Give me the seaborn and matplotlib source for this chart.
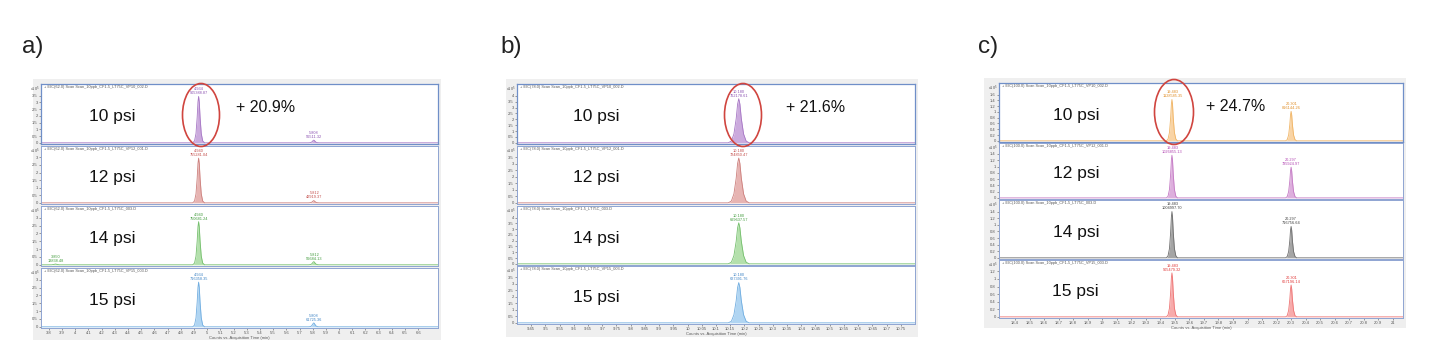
import math
import matplotlib
matplotlib.use("Agg")
import matplotlib.pyplot as plt
from matplotlib.patches import Ellipse, Rectangle
from matplotlib.ticker import FormatStrFormatter
import seaborn as sns

sns.set_theme(style="white")
plt.rcParams["font.family"] = ["Liberation Sans", "DejaVu Sans"]

W, H = 1429, 351

# ---------------- data ----------------
PRESSURES = ["10 psi", "12 psi", "14 psi", "15 psi"]
FILES = ["VP10_002.D", "VP12_001.D", "003.D", "VP15_003.D"]

# panel a) EIC(62.0)
A_TIME = [3.74, 3.82, 3.835, 3.85, 3.865, 3.88,
          4.890, 4.904, 4.915, 4.924, 4.930, 4.935, 4.940, 4.946, 4.955, 4.966, 4.980,
          5.768, 5.780, 5.790, 5.798, 5.804, 5.808, 5.812, 5.818, 5.826, 5.836, 5.848, 6.75]
A_10 = [0, 0, 0, 0, 0, 0,
        0, 0.14, 0.69, 1.90, 3.04, 3.45, 3.04, 1.90, 0.69, 0.14, 0,
        0, 0.01, 0.04, 0.11, 0.18, 0.20, 0.18, 0.11, 0.04, 0.01, 0, 0]
A_12 = [0, 0, 0, 0, 0, 0,
        0, 0.12, 0.59, 1.62, 2.60, 2.95, 2.60, 1.62, 0.59, 0.12, 0,
        0, 0.01, 0.03, 0.08, 0.13, 0.15, 0.13, 0.08, 0.03, 0.01, 0, 0]
A_14 = [0, 0, 0.02, 0.05, 0.02, 0,
        0, 0.11, 0.55, 1.51, 2.42, 2.75, 2.42, 1.51, 0.55, 0.11, 0,
        0, 0.01, 0.04, 0.11, 0.18, 0.20, 0.18, 0.11, 0.04, 0.01, 0, 0]
A_15 = [0, 0, 0, 0, 0, 0,
        0, 0.11, 0.57, 1.57, 2.51, 2.85, 2.51, 1.57, 0.57, 0.11, 0,
        0, 0.01, 0.05, 0.14, 0.22, 0.25, 0.22, 0.14, 0.05, 0.01, 0, 0]
A_TICKS = [3.8, 3.9, 4.0, 4.1, 4.2, 4.3, 4.4, 4.5, 4.6, 4.7, 4.8, 4.9, 5.0, 5.1, 5.2,
           5.3, 5.4, 5.5, 5.6, 5.7, 5.8, 5.9, 6.0, 6.1, 6.2, 6.3, 6.4, 6.5, 6.6]
A_PEAKS = [[(4.934, 3.45, "905388.87"), (5.808, 0.20, "56511.32")],
           [(4.940, 2.95, "755281.04"), (5.812, 0.15, "42919.37")],
           [(3.850, 0.05, "13838.48"), (4.940, 2.75, "750681.24"), (5.812, 0.20, "56684.13")],
           [(4.934, 2.85, "716358.35"), (5.808, 0.25, "61725.36")]]

# panel b) EIC(78.0)
B_TIME = [9.40, 10.143, 10.154, 10.163, 10.171, 10.176, 10.180, 10.184, 10.189,
          10.197, 10.206, 10.217, 10.80]
B_10 = [0, 0, 0.15, 0.75, 2.06, 3.30, 3.75, 3.30, 2.06, 0.75, 0.15, 0, 0]
B_12 = [0, 0, 0.14, 0.69, 1.90, 3.04, 3.45, 3.04, 1.90, 0.69, 0.14, 0, 0]
B_14 = [0, 0, 0.14, 0.71, 1.95, 3.12, 3.55, 3.12, 1.95, 0.71, 0.14, 0, 0]
B_15 = [0, 0, 0.12, 0.62, 1.71, 2.73, 3.10, 2.73, 1.71, 0.62, 0.12, 0, 0]
B_TICKS = [9.45, 9.5, 9.55, 9.6, 9.65, 9.7, 9.75, 9.8, 9.85, 9.9, 9.95, 10.0, 10.05,
           10.1, 10.15, 10.2, 10.25, 10.3, 10.35, 10.4, 10.45, 10.5, 10.55, 10.6,
           10.65, 10.7, 10.75]
B_PEAKS = [[(10.180, 3.75, "762178.61")],
           [(10.180, 3.45, "724850.47")],
           [(10.180, 3.55, "699637.57")],
           [(10.180, 3.10, "627391.76")]]

# panel c) EIC(100.0)
C_TIME = [18.29,
          19.442, 19.453, 19.463, 19.471, 19.476, 19.480, 19.484, 19.489, 19.497, 19.507, 19.518,
          20.262, 20.273, 20.283, 20.291, 20.296, 20.300, 20.304, 20.309, 20.317, 20.327, 20.338,
          21.07]
C_10 = [0, 0, 0.06, 0.29, 0.79, 1.26, 1.43, 1.26, 0.79, 0.29, 0.06, 0,
        0, 0.04, 0.20, 0.56, 0.90, 1.02, 0.90, 0.56, 0.20, 0.04, 0, 0]
C_12 = [0, 0, 0.05, 0.27, 0.75, 1.20, 1.36, 1.20, 0.75, 0.27, 0.05, 0,
        0, 0.04, 0.20, 0.54, 0.86, 0.98, 0.86, 0.54, 0.20, 0.04, 0, 0]
C_14 = [0, 0, 0.06, 0.28, 0.77, 1.23, 1.40, 1.23, 0.77, 0.28, 0.06, 0,
        0, 0.04, 0.19, 0.52, 0.84, 0.95, 0.84, 0.52, 0.19, 0.04, 0, 0]
C_15 = [0, 0, 0.05, 0.23, 0.64, 1.02, 1.16, 1.02, 0.64, 0.23, 0.05, 0,
        0, 0.03, 0.17, 0.46, 0.74, 0.84, 0.74, 0.46, 0.17, 0.03, 0, 0]
C_TICKS = [18.4, 18.5, 18.6, 18.7, 18.8, 18.9, 19.0, 19.1, 19.2, 19.3, 19.4, 19.5, 19.6,
           19.7, 19.8, 19.9, 20.0, 20.1, 20.2, 20.3, 20.4, 20.5, 20.6, 20.7, 20.8, 20.9, 21.0]
C_PEAKS = [[(19.483, 1.43, "1128585.35"), (20.301, 1.02, "816144.26")],
           [(19.483, 1.36, "1026855.13"), (20.297, 0.98, "735924.97")],
           [(19.483, 1.40, "1004997.70"), (20.297, 0.95, "716756.64")],
           [(19.483, 1.16, "905479.32"), (20.301, 0.84, "667196.14")]]

GAINS = ["+ 20.9%", "+ 21.6%", "+ 24.7%"]
PANEL_LABELS = ["a)", "b)", "c)"]
EIC = ["EIC(62.0)", "EIC(78.0)", "EIC(100.0)"]

# ---------------- styling / layout ----------------
COL_ABD = [("#c9a6dc", "#a676c4", "#8a4fb0"),
           ("#e6b0ae", "#cc7f7c", "#c24a47"),
           ("#b0dfa8", "#74bf6c", "#3f9a3a"),
           ("#acd3f2", "#70ade0", "#3b82c4")]
COL_C = [("#f9d2a0", "#f0b464", "#e08d25"),
         ("#dcabdc", "#c479c4", "#b145b1"),
         ("#a0a0a0", "#6e6e6e", "#3c3c3c"),
         ("#f7a7a7", "#ee7474", "#e03535")]

PANELS = [
    dict(time=A_TIME, series=[A_10, A_12, A_14, A_15], ticks=A_TICKS, peaks=A_PEAKS,
         xlim=(3.74, 6.75), left=41, right=438,
         rows=[(84, 144), (146, 204), (206, 266), (268, 328)],
         box=(33, 79, 441, 340), colors=COL_ABD, ystep=0.5,
         txt_x=0.18, gain_x=0.565, ell=(201, 115, 37, 63), label_x=22),
    dict(time=B_TIME, series=[B_10, B_12, B_14, B_15], ticks=B_TICKS, peaks=B_PEAKS,
         xlim=(9.40, 10.80), left=517, right=915,
         rows=[(84, 144), (146, 204), (206, 265), (266, 324)],
         box=(506, 79, 918, 337), colors=COL_ABD, ystep=0.5,
         txt_x=0.20, gain_x=0.75, ell=(743, 115, 37, 63), label_x=500),
    dict(time=C_TIME, series=[C_10, C_12, C_14, C_15], ticks=C_TICKS, peaks=C_PEAKS,
         xlim=(18.29, 21.07), left=999, right=1403,
         rows=[(83, 142), (143, 199), (200, 259), (260, 318)],
         box=(984, 78, 1406, 328), colors=COL_C, ystep=0.2,
         txt_x=0.19, gain_x=0.585, ell=(1174, 112, 39, 65), label_x=978),
]

fig = plt.figure(figsize=(W / 100, H / 100), dpi=100)
fig.patch.set_facecolor("white")


def rect(x0, y0, x1, y1):
    return [x0 / W, 1 - y1 / H, (x1 - x0) / W, (y1 - y0) / H]


SPINE = "#8ea4d2"
TINY = 2.8

# gray background boxes drawn on a full-figure background axes
bg = fig.add_axes([0, 0, 1, 1], zorder=-5)
bg.set_xlim(0, W)
bg.set_ylim(H, 0)
bg.axis("off")

for pi, p in enumerate(PANELS):
    bx0, by0, bx1, by1 = p["box"]
    bg.add_patch(Rectangle((bx0, by0), bx1 - bx0, by1 - by0,
                           facecolor="#efefef", edgecolor="none"))
    fig.text(p["label_x"] / W, 1 - 47 / H, PANEL_LABELS[pi], fontsize=17.5,
             ha="left", va="center", color="#222222")
    for ri, (y0, y1) in enumerate(p["rows"]):
        ax = fig.add_axes(rect(p["left"], y0, p["right"], y1))
        ax.set_facecolor("white")
        fill, line, tcol = p["colors"][ri]
        vals = p["series"][ri]
        ax.fill_between(p["time"], vals, 0, color=fill, alpha=0.95, linewidth=0)
        sns.lineplot(x=p["time"], y=vals, ax=ax, color=line, linewidth=0.6,
                     estimator=None, sort=False, legend=False)
        step = p["ystep"]
        nt = int(math.ceil(max(vals) / step - 1e-9))
        yt = [round(k * step, 3) for k in range(nt + 1)]
        top = yt[-1] / 0.8
        ax.set_xlim(*p["xlim"])
        ax.set_ylim(-top * 0.02, top)
        ax.set_yticks(yt)
        ax.yaxis.set_major_formatter(FormatStrFormatter("%g"))
        ax.set_xticks(p["ticks"])
        ax.tick_params(axis="both", which="major", length=1.5, width=0.4,
                       labelsize=3, pad=0.8, colors="#555555", left=True,
                       bottom=(ri == 3))
        if ri < 3:
            ax.set_xticklabels([])
            ax.set_xlabel("")
        else:
            ax.set_xticklabels(["%g" % t for t in p["ticks"]])
            ax.set_xlabel("Counts vs. Acquisition Time (min)", fontsize=3,
                          labelpad=0.5, color="#555555")
        ax.set_ylabel("")
        for s in ax.spines.values():
            s.set_color("#6f8fc8" if ri == 0 else SPINE)
            s.set_linewidth(0.9 if ri == 0 else 0.7)
        ax.text(0.008, 0.985,
                "+ %s Scan Scan_10ppb_CF1-5_LT75C_%s" % (EIC[pi], FILES[ri]),
                transform=ax.transAxes, fontsize=TINY, va="top", ha="left",
                color="#555555")
        ax.text(-0.004, 0.985, r"x10$^{5}$", transform=ax.transAxes,
                fontsize=TINY, va="top", ha="right", color="#555555")
        for rt, h, area in p["peaks"][ri]:
            ax.annotate("%.3f\n%s" % (rt, area), xy=(rt, h), xytext=(0, 0.8),
                        textcoords="offset points", ha="center", va="bottom",
                        fontsize=TINY, color=tcol, linespacing=1.0)
        ax.text(p["txt_x"], 0.45, PRESSURES[ri], transform=ax.transAxes,
                fontsize=12.5, ha="center", va="center", color="#111111")
        if ri == 0:
            ax.text(p["gain_x"], 0.6, GAINS[pi], transform=ax.transAxes,
                    fontsize=11.5, ha="center", va="center", color="#111111")
    ex, ey, ew, eh = p["ell"]
    fig.patches.append(Ellipse((ex / W, 1 - ey / H), ew / W, eh / H,
                               transform=fig.transFigure, fill=False,
                               edgecolor="#d0453f", linewidth=1.2, zorder=10))

fig.savefig("out.png", dpi=100)
